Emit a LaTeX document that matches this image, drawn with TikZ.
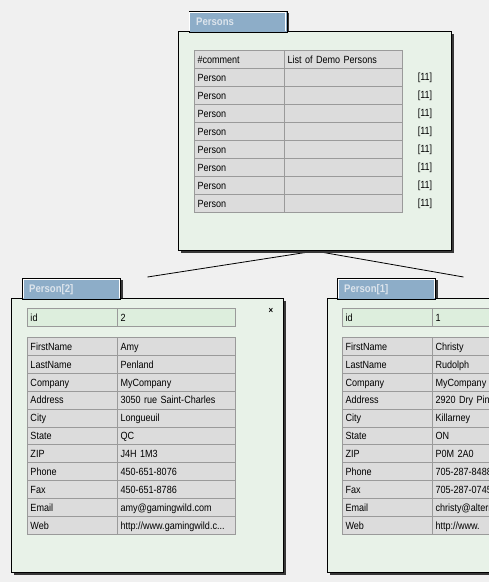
\documentclass[tikz,border=0pt]{standalone}
\usepackage{fontspec}
\setmainfont{Liberation Sans}[FakeStretch=0.87,WordSpace=0.87]
\definecolor{pagebg}{HTML}{F0F0F0}
\definecolor{boxbg}{HTML}{E8F2E8}
\definecolor{cellbg}{HTML}{DCDCDC}
\definecolor{cellline}{HTML}{9A9A9A}
\definecolor{idbg}{HTML}{DDEEDD}
\definecolor{tabbg}{HTML}{8DADC8}
\definecolor{tabtext}{HTML}{DCE4EC}
\definecolor{shadowc}{HTML}{383838}
\pgfdeclarelayer{bglayer}
\pgfdeclarelayer{edgelayer}
\pgfsetlayers{bglayer,edgelayer,main}
\begin{document}
\begin{tikzpicture}[x=1pt,y=-1pt,
  every node/.style={font=\fontsize{10.4}{12}\selectfont, inner sep=0pt},
  winbox/.style={draw=black, line width=1pt, fill=boxbg, anchor=north west},
  winshadow/.style={fill=shadowc, anchor=north west},
  tabbox/.style={draw=black, line width=1pt, fill=tabbg, anchor=north west, minimum height=21pt, minimum width=98pt},
  tabtitle/.style={font=\bfseries\fontsize{11}{12}\selectfont, text=tabtext, anchor=west},
  cell/.style={draw=cellline, line width=1pt, fill=cellbg, minimum height=18pt, anchor=north west, align=left, text height=8.2pt, text depth=0.8pt},
  colA/.style={cell, minimum width=90pt, text width=84pt},
  colB/.style={cell, minimum width=118pt, text width=112pt},
  idA/.style={colA, fill=idbg},
  idB/.style={colB, fill=idbg},
  link/.style={draw=black, line width=0.8pt}
]
\useasboundingbox (0,0) rectangle (489,582);
\clip (0,0) rectangle (489,582);
\begin{pgfonlayer}{bglayer}
\fill[pagebg] (0,0) rectangle (489,582);
\end{pgfonlayer}

% ---------- Persons window ----------
\node[winshadow, minimum width=273pt, minimum height=219pt] (persons-sh) at (181,34) {};
\node[winbox, minimum width=273pt, minimum height=219pt] (persons) at (178,31) {};
\fill[shadowc] (286.5,13) rectangle (288.5,31);
\node[tabbox] (persons-tab) at (188.5,11) {};
\draw[white, line width=1pt] (189.5,31) -- (189.5,12) -- (285.5,12) -- (285.5,31);
\node[tabtitle] (persons-title) at (196,21.5) {Persons};

\foreach \a/\b [count=\i from 0] in {\#comment/List of Demo Persons, Person/, Person/, Person/, Person/, Person/, Person/, Person/, Person/} {
  \node[colA] (pc-\i-a) at (194,{50+18*\i}) {\a};
  \node[colB] (pc-\i-b) at (284,{50+18*\i}) {\b};
}
\foreach \i in {1,...,8} {
  \node (pn-\i) at (425,{59.5+18*\i}) {[11]};
}

% ---------- Person[2] window ----------
\node[winshadow, minimum width=272pt, minimum height=274pt] (p2-sh) at (14,301) {};
\node[winbox, minimum width=272pt, minimum height=274pt] (p2) at (11,298) {};
\fill[shadowc] (120.5,280) rectangle (122.5,298);
\node[tabbox] (p2-tab) at (22,278) {};
\draw[white, line width=1pt] (23,298) -- (23,279) -- (119,279) -- (119,298);
\node[tabtitle] (p2-title) at (29,289.5) {Person[2]};
\node[font=\bfseries\fontsize{9}{9}\selectfont] (p2-close) at (271,311) {×};

\node[idA] (p2-id-a) at (27,308) {id};
\node[idB] (p2-id-b) at (117,308) {2};
\foreach \a/\b [count=\i from 0] in {FirstName/Amy, LastName/Penland, Company/MyCompany, Address/3050 rue Saint-Charles, City/Longueuil, State/QC, ZIP/J4H 1M3, Phone/450-651-8076, Fax/450-651-8786, Email/amy@gamingwild.com} {
  \node[colA] (p2-\i-a) at (27,{337+17.9*\i}) {\a};
  \node[colB] (p2-\i-b) at (117,{337+17.9*\i}) {\b};
}
\node[colA] (p2-10-a) at (27,516) {Web};
\node[colB] (p2-10-b) at (117,516) {http://www.gamingwild.c...};

% ---------- Person[1] window ----------
\node[winshadow, minimum width=272pt, minimum height=274pt] (p1-sh) at (330,301) {};
\node[winbox, minimum width=272pt, minimum height=274pt] (p1) at (327,298) {};
\fill[shadowc] (435.5,280) rectangle (437.5,298);
\node[tabbox] (p1-tab) at (337,278) {};
\draw[white, line width=1pt] (338,298) -- (338,279) -- (434,279) -- (434,298);
\node[tabtitle] (p1-title) at (344,289.5) {Person[1]};

\node[idA] (p1-id-a) at (342,308) {id};
\node[idB] (p1-id-b) at (432,308) {1};
\foreach \a/\b [count=\i from 0] in {FirstName/Christy, LastName/Rudolph, Company/MyCompany, Address/2920 Dry Pine Bay Rd, City/Killarney, State/ON, ZIP/P0M 2A0, Phone/705-287-8488, Fax/705-287-0745, Email/christy@alterna.com} {
  \node[colA] (p1-\i-a) at (342,{337+17.9*\i}) {\a};
  \node[colB] (p1-\i-b) at (432,{337+17.9*\i}) {\b};
}
\node[colA] (p1-10-a) at (342,516) {Web};
\node[colB] (p1-10-b) at (432,516) {http://www.};

% ---------- connectors ----------
\begin{pgfonlayer}{edgelayer}
\draw[link] (persons.south) -- ([yshift=21pt]p2.north);
\draw[link] (persons.south) -- ([yshift=21pt]p1.north);
\end{pgfonlayer}
\end{tikzpicture}
\end{document}
